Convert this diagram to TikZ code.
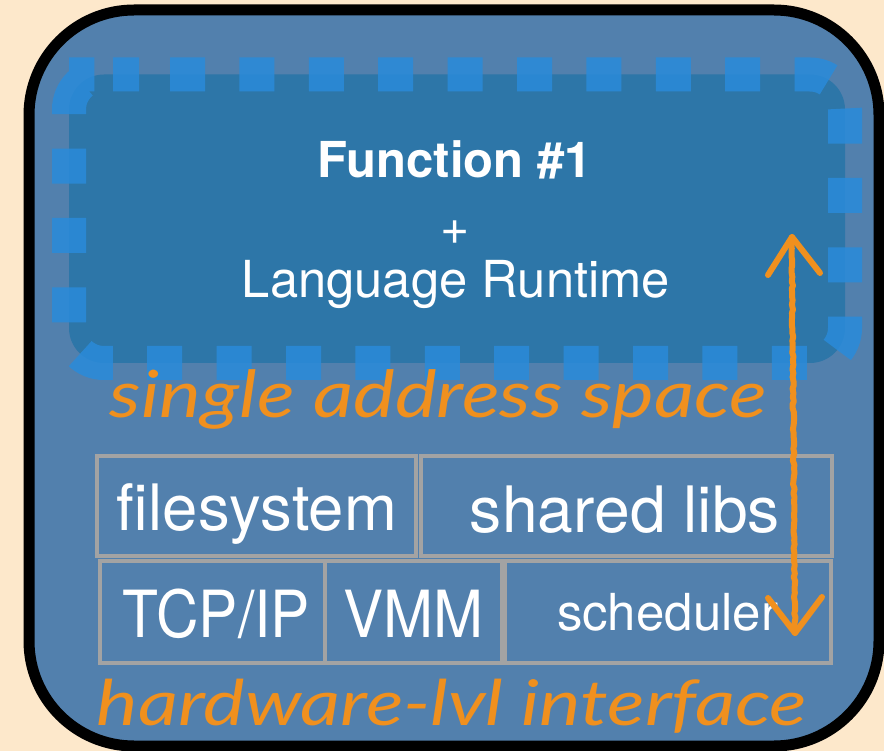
\documentclass[tikz,border=0pt]{standalone}
\usepackage{fontspec}
\usepackage{graphicx}
\setmainfont{TeX Gyre Heros}
\newfontfamily\handfont{Lato}
\usetikzlibrary{decorations.pathmorphing}
\definecolor{paper}{HTML}{FDE8CB}
\definecolor{outerblue}{HTML}{5280AD}
\definecolor{innerblue}{HTML}{2D76A8}
\definecolor{dotblue}{HTML}{2A8BDA}
\definecolor{boxgray}{HTML}{A3A3A3}
\definecolor{hand}{HTML}{F0901E}
\newcommand\fitw[3]{{\fontsize{#2}{#2}\selectfont\resizebox{#1}{\height}{#3}}}
\tikzset{
  outerbox/.style={draw=black, line width=11pt, fill=outerblue, rounded corners=105pt},
  innerfill/.style={fill=innerblue, rounded corners=35pt},
  innerdots/.style={draw=dotblue, draw opacity=0.85, line width=34pt, dash pattern=on 35pt off 34.4pt, dash phase=38.4pt, rounded corners=35pt},
  layerbox/.style={draw=boxgray, line width=4.5pt},
  wtext/.style={text=white, inner sep=0pt, anchor=base},
  htext/.style={text=hand, inner sep=0pt, anchor=base, font=\handfont\itshape},
  handline/.style={draw=hand, line width=6pt, line cap=round, line join=round},
}
\begin{document}
\begin{tikzpicture}[x=1pt, y=-1pt]
\fill[paper] (0,0) rectangle (884,751);
\useasboundingbox (0,0) rectangle (884,751);
% outer container
\path[outerbox] (29,10) rectangle (879,746);
% single address space region
\path[innerfill] (69,74.5) rectangle (845,363);
\path[innerdots] (104,74.5) -- (845,74.5) -- (845,363) -- (69,363) -- (69,74.5) -- cycle;
% texts in region
\node[wtext] (fn) at (455,178) {\bfseries\fitw{274pt}{49.5pt}{Function \#1}};
\node[wtext] (plus) at (455,245) {\fontsize{50pt}{50pt}\selectfont +};
\node[wtext] (lr) at (456,298) {\fitw{428pt}{51pt}{Language Runtime}};
% label
\node[htext] (sas) at (438.5,418) {\fitw{657pt}{65pt}{single address space}};
% layer boxes
\draw[layerbox] (97,456) rectangle (416,556);
\draw[layerbox] (421,456) rectangle (832,556);
\draw[layerbox] (100,561) rectangle (325,663);
\draw[layerbox] (325,561) rectangle (502,663);
\draw[layerbox] (505,561) rectangle (831,663);
\node[wtext] (fs) at (257,530) {\fitw{280pt}{64pt}{filesystem}};
\node[wtext] (sl) at (625,532) {\fitw{310pt}{64pt}{shared libs}};
\node[wtext] (tcp) at (216.5,637) {\fitw{187pt}{65pt}{TCP/IP}};
\node[wtext] (vmm) at (413,637) {\fitw{140pt}{65pt}{VMM}};
\node[wtext] (sch) at (667.5,630) {\fitw{221pt}{51pt}{scheduler}};
\node[htext] (hw) at (452,725) {\fitw{710pt}{63pt}{hardware-lvl interface}};
% hand-drawn double arrow
\coordinate (atop) at (792,237);
\coordinate (abot) at (795,633);
\coordinate (tl) at (768,275);
\coordinate (tr) at (820,273);
\coordinate (bl) at (768,598);
\coordinate (br) at (822,597);
\draw[handline, decorate, decoration={random steps, segment length=4pt, amplitude=0.8pt}] (atop) -- (abot);
\draw[handline] (tl) -- (atop) -- (tr);
\draw[handline] (bl) -- (abot) -- (br);
\end{tikzpicture}
\end{document}
